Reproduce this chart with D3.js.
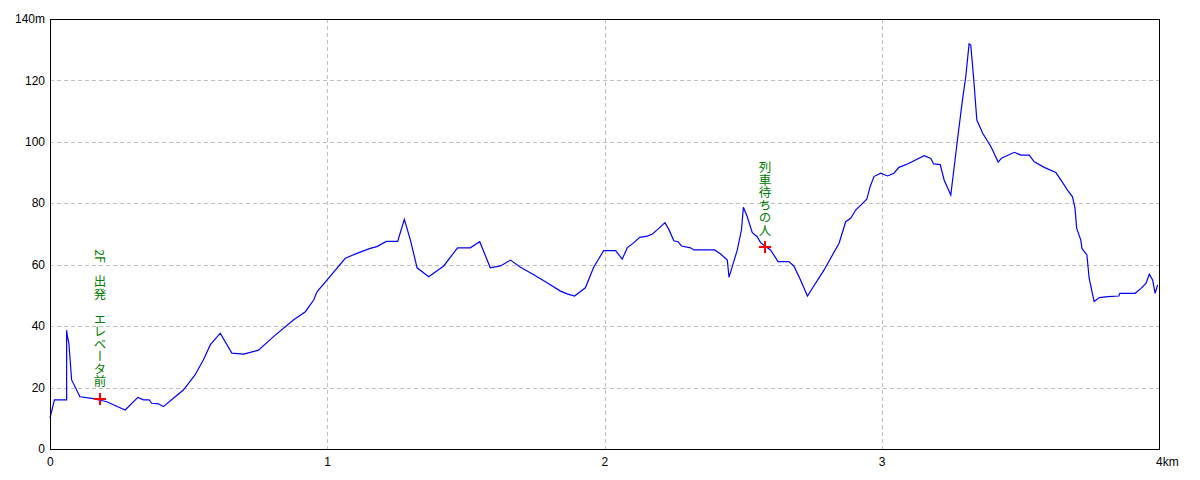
<!DOCTYPE html>
<html><head><meta charset="utf-8">
<script src="https://cdn.jsdelivr.net/npm/d3@7"></script>
<style>
html,body{margin:0;padding:0;background:#fff;}
svg{display:block;}
</style></head>
<body>
<svg id="c" width="1200" height="480"></svg>
<script>
// distance along route (km)
const distKm = [0.000,0.016,0.060,0.060,0.062,0.068,0.078,0.108,0.151,0.205,0.271,0.317,0.337,0.358,0.367,0.391,0.409,0.445,0.481,0.523,0.553,0.578,0.614,0.656,0.698,0.752,0.806,0.878,0.921,0.951,0.963,0.999,1.065,1.107,1.155,1.179,1.213,1.254,1.278,1.300,1.324,1.366,1.420,1.470,1.516,1.550,1.588,1.625,1.661,1.697,1.745,1.793,1.841,1.865,1.892,1.931,1.961,1.997,2.040,2.064,2.082,2.106,2.127,2.154,2.172,2.192,2.218,2.232,2.250,2.265,2.278,2.310,2.322,2.397,2.419,2.443,2.449,2.479,2.494,2.501,2.515,2.533,2.551,2.563,2.581,2.599,2.626,2.665,2.683,2.705,2.732,2.792,2.846,2.870,2.888,2.906,2.946,2.958,2.972,2.996,3.021,3.044,3.062,3.093,3.153,3.177,3.187,3.211,3.225,3.249,3.273,3.291,3.303,3.315,3.321,3.331,3.343,3.364,3.394,3.420,3.432,3.478,3.502,3.532,3.550,3.586,3.628,3.646,3.670,3.688,3.697,3.703,3.718,3.722,3.740,3.748,3.757,3.766,3.785,3.815,3.855,3.859,3.914,3.935,3.953,3.965,3.977,3.986,3.995];
// elevation (m)
const elevM = [10.1,16.0,16.0,38.7,37.1,34.5,22.5,17.0,16.5,15.4,12.7,16.8,16.0,16.0,14.9,14.7,13.8,16.5,19.2,24.1,29.0,33.9,37.7,31.2,30.9,32.2,36.6,42.0,44.7,48.5,51.2,55.0,62.1,63.7,65.3,65.9,67.6,67.6,74.8,68.0,59.0,56.1,59.6,65.5,65.5,67.5,59.0,59.6,61.5,59.2,56.7,54.1,51.4,50.5,49.8,52.5,59.2,64.6,64.6,61.8,65.5,67.2,68.9,69.3,69.9,71.5,73.7,71.5,67.8,67.5,66.1,65.5,64.8,64.8,63.5,61.5,55.9,64.8,71.3,78.7,75.6,70.4,69.1,67.2,65.9,64.8,61.0,61.0,59.6,55.4,49.8,58.3,67.0,74.0,75.1,77.8,81.3,85.4,88.7,89.8,88.9,89.8,91.7,92.8,95.5,94.6,92.8,92.6,87.6,82.7,100.6,113.6,121.2,131.9,131.5,121.2,107.1,102.8,98.4,93.4,94.7,96.6,95.7,95.7,93.5,91.7,90.0,87.6,84.3,82.1,78.4,71.9,68.0,65.3,63.2,55.6,51.8,48.0,49.3,49.6,49.8,50.7,50.7,52.3,53.9,56.9,55.0,50.7,53.4];

const xTicks = [0,1,2,3,4];
const xTickLabels = ["0","1","2","3","4km"];
const yTicks = [0,20,40,60,80,100,120,140];
const yTickLabels = ["0","20","40","60","80","100","120","140m"];

// annotations
const noteKm = [0.18, 2.578];
const noteM = [16.3, 65.8];
const noteText = ["2F\u3000出発\u3000エレベータ前", "列車待ちの人"];

const svg = d3.select("#c");
const L = 50, R = 1159, T = 19, B = 449;
const x = d3.scaleLinear().domain([0,4]).range([L,R]);
const y = d3.scaleLinear().domain([0,140]).range([B,T]);
const axisFont = "'Liberation Sans Narrow', 'Liberation Sans', Arial, sans-serif";

// grid
const g = svg.append("g");
g.selectAll("line.h").data(yTicks.filter(v=>v>0&&v<140)).enter().append("line")
  .attr("x1",L).attr("x2",R).attr("y1",d=>y(d)+0.5).attr("y2",d=>y(d)+0.5)
  .attr("stroke","#c0c0c0").attr("stroke-dasharray","4,3").attr("shape-rendering","crispEdges");
g.selectAll("line.v").data(xTicks.filter(v=>v>0&&v<4)).enter().append("line")
  .attr("y1",T).attr("y2",B).attr("x1",d=>Math.round(x(d))+0.5).attr("x2",d=>Math.round(x(d))+0.5)
  .attr("stroke","#c0c0c0").attr("stroke-dasharray","4,3").attr("shape-rendering","crispEdges");

// line
const pts = distKm.map((d,i)=>[d, elevM[i]]);
svg.append("path").datum(pts)
  .attr("d", d3.line().x(d=>x(d[0])).y(d=>y(d[1])))
  .attr("fill","none").attr("stroke","#0000ff").attr("stroke-width",1.2);

// frame
svg.append("rect").attr("x",L+0.5).attr("y",T+0.5).attr("width",R-L).attr("height",B-T)
  .attr("fill","none").attr("stroke","#000").attr("stroke-width",1).attr("shape-rendering","crispEdges");

// axis labels
svg.selectAll("text.yl").data(yTicks).enter().append("text")
  .attr("x",45).attr("y",d=>y(d)).attr("dy","0.35em").attr("text-anchor","end")
  .attr("font-family",axisFont).attr("font-size",12).attr("fill","#000")
  .text((d,i)=>yTickLabels[i]);
svg.selectAll("text.xl").data(xTicks).enter().append("text")
  .attr("x",d=>x(d)-3).attr("y",466).attr("text-anchor","start")
  .attr("font-family",axisFont).attr("font-size",12).attr("fill","#000")
  .text((d,i)=>xTickLabels[i]);

// markers
noteKm.forEach((k,i)=>{
  const cx = Math.round(x(k)), cy = Math.round(y(noteM[i]));
  svg.append("line").attr("x1",cx-6).attr("x2",cx+6).attr("y1",cy).attr("y2",cy)
    .attr("stroke","#ff0000").attr("stroke-width",2);
  svg.append("line").attr("x1",cx).attr("x2",cx).attr("y1",cy-6).attr("y2",cy+6)
    .attr("stroke","#ff0000").attr("stroke-width",2);
  svg.append("text").attr("x",cx).attr("y",cy-11)
    .attr("text-anchor","end")
    .style("writing-mode","vertical-rl")
    .attr("font-family","Noto Sans CJK JP, sans-serif").attr("font-size",12.5).attr("fill","#008000")
    .text(noteText[i]);
});
</script>
</body></html>
